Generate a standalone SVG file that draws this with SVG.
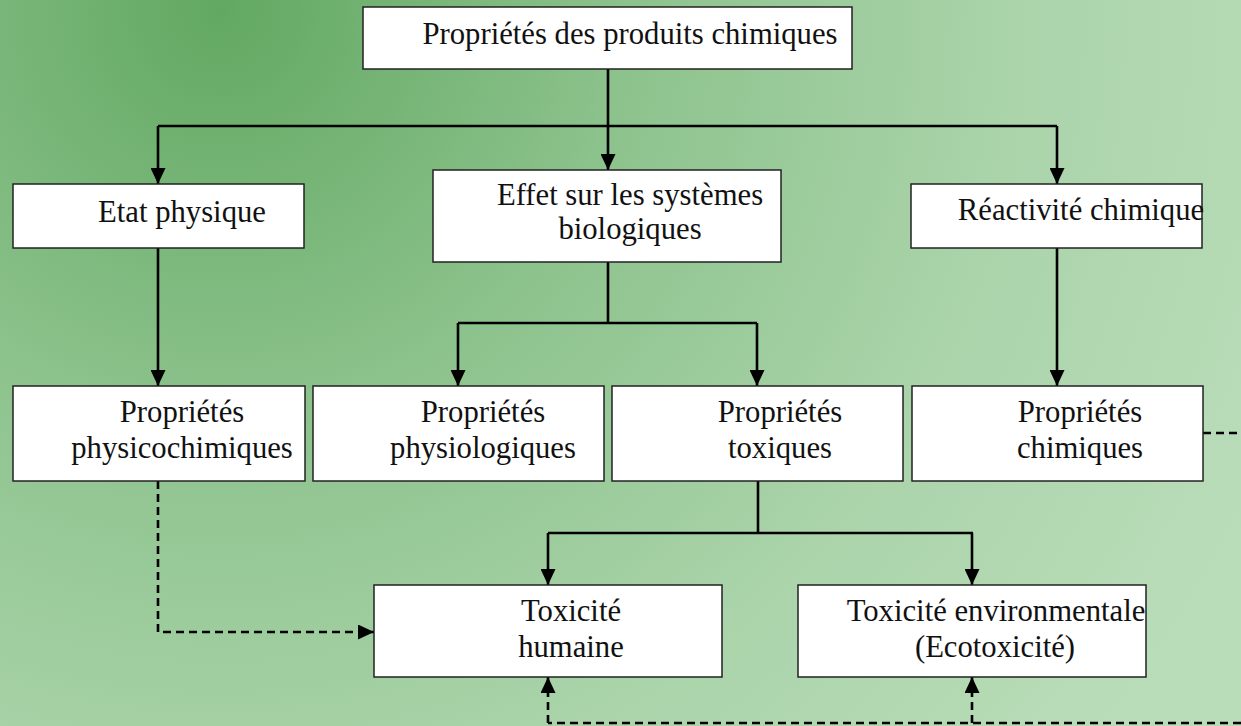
<svg xmlns="http://www.w3.org/2000/svg" width="1241" height="726" viewBox="0 0 1241 726">
  <defs>
    <radialGradient id="bg" gradientUnits="userSpaceOnUse" cx="220" cy="10" r="1150">
      <stop offset="0" stop-color="#62a862"/>
      <stop offset="0.35" stop-color="#8cc28c"/>
      <stop offset="0.7" stop-color="#abd4ab"/>
      <stop offset="1" stop-color="#b9ddb9"/>
    </radialGradient>
    <marker id="arrow" markerUnits="userSpaceOnUse" markerWidth="16" markerHeight="15" refX="16" refY="7.5" orient="auto">
      <path d="M0,0 L16,7.5 L0,15 z" fill="#000"/>
    </marker>
    <style>
      .box { fill: #fff; stroke: #222; stroke-width: 1.5; }
      .lbl { font-family: "Liberation Serif", "Times New Roman", serif; font-size: 30.7px; fill: #111; text-anchor: middle; }
      .solid { fill: none; stroke: #000; stroke-width: 2.6; }
      .dash { fill: none; stroke: #000; stroke-width: 2.6; stroke-dasharray: 8 5; }
    </style>
  </defs>

  <rect x="0" y="0" width="1241" height="726" fill="url(#bg)"/>

  <!-- connectors -->
  <g id="connectors">
    <path class="solid" d="M608,69 V126"/>
    <path class="solid" d="M158,126 H1057"/>
    <path class="solid" d="M158,126 V184" marker-end="url(#arrow)"/>
    <path class="solid" d="M608,126 V170" marker-end="url(#arrow)"/>
    <path class="solid" d="M1057,126 V184" marker-end="url(#arrow)"/>

    <path class="solid" d="M158,248 V386" marker-end="url(#arrow)"/>
    <path class="solid" d="M1057,248 V386" marker-end="url(#arrow)"/>

    <path class="solid" d="M608,262 V323 M458,323 H757"/>
    <path class="solid" d="M458,323 V386" marker-end="url(#arrow)"/>
    <path class="solid" d="M757,323 V386" marker-end="url(#arrow)"/>

    <path class="solid" d="M758,481 V533 M548,533 H973"/>
    <path class="solid" d="M548,533 V585" marker-end="url(#arrow)"/>
    <path class="solid" d="M972,533 V585" marker-end="url(#arrow)"/>

    <path class="dash" d="M158,481 V632 H374" marker-end="url(#arrow)"/>
    <path class="dash" d="M1203,433 H1241"/>
    <path class="dash" d="M1241,723 H548"/>
    <path class="dash" d="M548,723 V677" marker-end="url(#arrow)"/>
    <path class="dash" d="M972,723 V677" marker-end="url(#arrow)"/>
  </g>

  <!-- nodes -->
  <g id="proprietes-produits">
    <rect class="box" x="363" y="7" width="489" height="62"/>
    <text class="lbl" x="630" y="44">Propriétés des produits chimiques</text>
  </g>

  <g id="etat-physique">
    <rect class="box" x="13" y="184" width="291" height="64"/>
    <text class="lbl" x="182" y="222">Etat physique</text>
  </g>

  <g id="effet-biologique">
    <rect class="box" x="433" y="170" width="348" height="92"/>
    <text class="lbl" x="630" y="205">Effet sur les systèmes</text>
    <text class="lbl" x="630" y="239">biologiques</text>
  </g>

  <g id="reactivite">
    <rect class="box" x="911" y="184" width="291" height="64"/>
    <text class="lbl" x="1081" y="220">Réactivité chimique</text>
  </g>

  <g id="physicochimiques">
    <rect class="box" x="13" y="386" width="292" height="95"/>
    <text class="lbl" x="182" y="422">Propriétés</text>
    <text class="lbl" x="182" y="458">physicochimiques</text>
  </g>

  <g id="physiologiques">
    <rect class="box" x="313" y="386" width="291" height="95"/>
    <text class="lbl" x="483" y="422">Propriétés</text>
    <text class="lbl" x="483" y="458">physiologiques</text>
  </g>

  <g id="toxiques">
    <rect class="box" x="612" y="386" width="291" height="95"/>
    <text class="lbl" x="780" y="422">Propriétés</text>
    <text class="lbl" x="780" y="458">toxiques</text>
  </g>

  <g id="chimiques">
    <rect class="box" x="912" y="386" width="291" height="95"/>
    <text class="lbl" x="1080" y="422">Propriétés</text>
    <text class="lbl" x="1080" y="458">chimiques</text>
  </g>

  <g id="toxicite-humaine">
    <rect class="box" x="374" y="585" width="348" height="92"/>
    <text class="lbl" x="571" y="621">Toxicité</text>
    <text class="lbl" x="571" y="657">humaine</text>
  </g>

  <g id="ecotoxicite">
    <rect class="box" x="798" y="585" width="348" height="92"/>
    <text class="lbl" x="996" y="621">Toxicité environmentale</text>
    <text class="lbl" x="995" y="657">(Ecotoxicité)</text>
  </g>
</svg>
